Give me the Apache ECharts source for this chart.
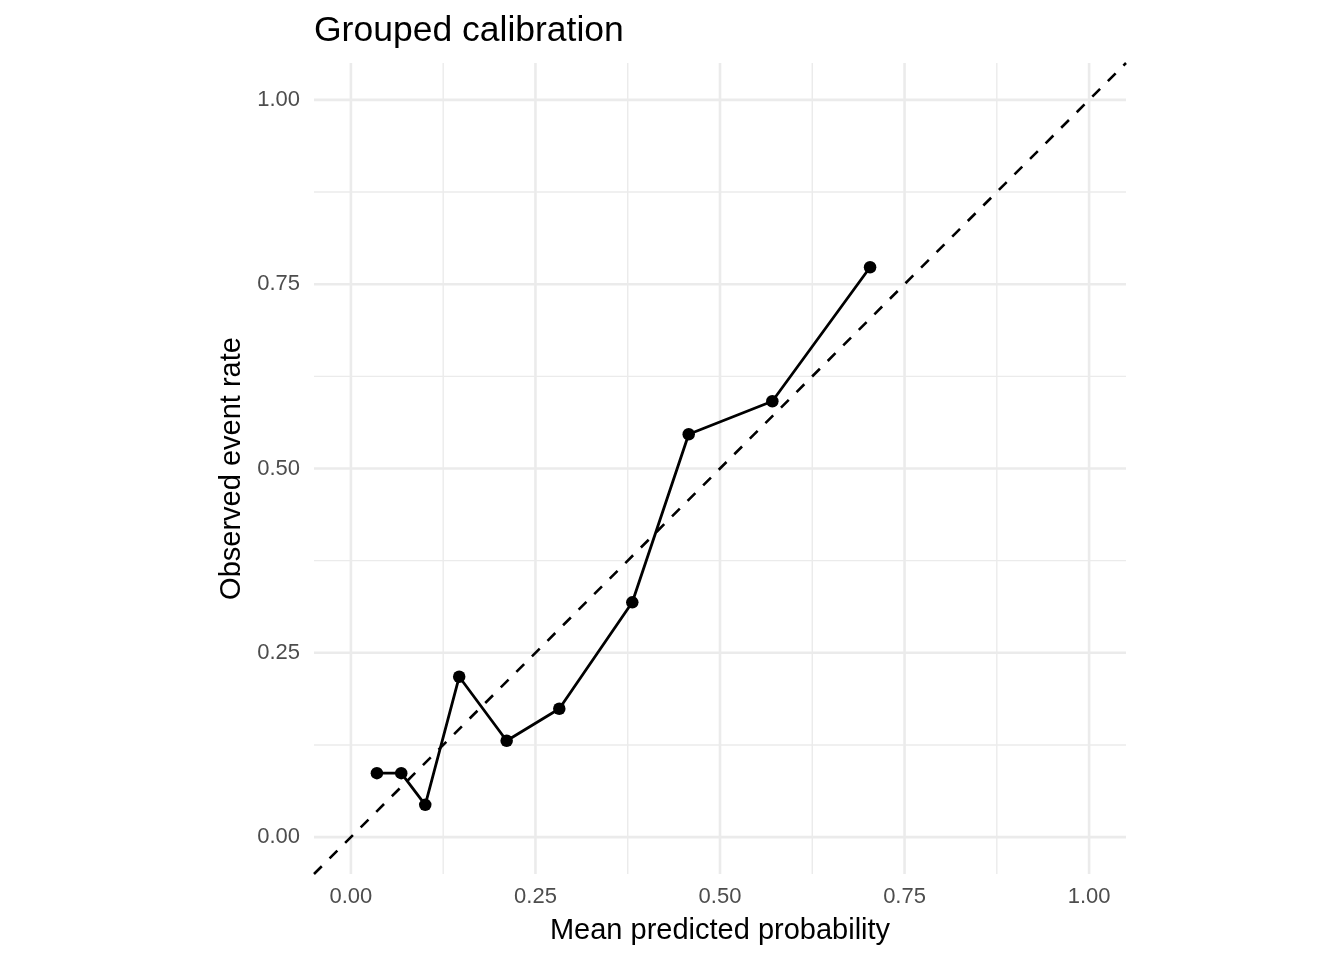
<!DOCTYPE html>
<html>
<head>
<meta charset="utf-8">
<script src="https://cdn.jsdelivr.net/npm/echarts@6/dist/echarts.min.js"></script>
<style>
html,body{margin:0;padding:0;background:#fff;}
#chart{width:1344px;height:960px;}
</style>
</head>
<body>
<div id="chart"></div>
<script>
// Data
var predicted = [0.0352, 0.0682, 0.1007, 0.1467, 0.2110, 0.2823, 0.3812, 0.4576, 0.5709, 0.7033];
var observed  = [0.0868, 0.0868, 0.0438, 0.2175, 0.1307, 0.1741, 0.3185, 0.5464, 0.5912, 0.7730];
var majorTicks = [0, 0.25, 0.5, 0.75, 1];
var minorTicks = [0.125, 0.375, 0.625, 0.875];
var axisLimits = [-0.05, 1.05];

var calib = predicted.map(function (p, i) { return [p, observed[i]]; });
var refLine = [[axisLimits[0], axisLimits[0]], [axisLimits[1], axisLimits[1]]];

function gridSeries(v, width) {
  var style = { color: '#EBEBEB', width: width, type: 'solid' };
  return [
    { type: 'line', data: [[v, axisLimits[0]], [v, axisLimits[1]]], symbol: 'none', silent: true, z: 1, lineStyle: style },
    { type: 'line', data: [[axisLimits[0], v], [axisLimits[1], v]], symbol: 'none', silent: true, z: 1, lineStyle: style }
  ];
}
var gridLineSeries = [];
minorTicks.forEach(function (v) { gridLineSeries = gridLineSeries.concat(gridSeries(v, 1.4)); });
majorTicks.forEach(function (v) { gridLineSeries = gridLineSeries.concat(gridSeries(v, 2.6)); });

var fontFam = '"Liberation Sans", Arial, sans-serif';
var chart = echarts.init(document.getElementById('chart'), null, { renderer: 'canvas' });
chart.setOption({
  animation: false,
  backgroundColor: '#ffffff',
  title: {
    text: 'Grouped calibration',
    left: 314,
    top: 13,
    padding: 0,
    textStyle: { fontFamily: fontFam, fontSize: 35.5, fontWeight: 'normal', color: '#000000' }
  },
  grid: { left: 314, right: 218, top: 63, bottom: 86, containLabel: false },
  xAxis: {
    type: 'value',
    min: axisLimits[0],
    max: axisLimits[1],
    name: 'Mean predicted probability',
    nameLocation: 'middle',
    nameGap: 42,
    nameTextStyle: { fontFamily: fontFam, fontSize: 29, color: '#000000' },
    axisLine: { show: false },
    axisTick: { show: false, customValues: majorTicks },
    splitLine: { show: false },
    axisLabel: {
      customValues: majorTicks,
      margin: 12,
      fontFamily: fontFam, fontSize: 22, color: '#4D4D4D',
      formatter: function (v) { return v.toFixed(2); }
    }
  },
  yAxis: {
    type: 'value',
    min: axisLimits[0],
    max: axisLimits[1],
    name: 'Observed event rate',
    nameLocation: 'middle',
    nameGap: 67,
    nameRotate: 90,
    nameTextStyle: { fontFamily: fontFam, fontSize: 29, color: '#000000' },
    axisLine: { show: false },
    axisTick: { show: false, customValues: majorTicks },
    splitLine: { show: false },
    axisLabel: {
      customValues: majorTicks,
      margin: 14,
      padding: [3, 0, 0, 0],
      fontFamily: fontFam, fontSize: 22, color: '#4D4D4D',
      formatter: function (v) { return v.toFixed(2); }
    }
  },
  series: gridLineSeries.concat([
    {
      type: 'line',
      name: 'reference',
      data: refLine,
      z: 3,
      showSymbol: false,
      symbol: 'none',
      silent: true,
      lineStyle: { color: '#000000', width: 2.6, type: [11, 11], cap: 'butt' }
    },
    {
      type: 'line',
      name: 'calibration',
      data: calib,
      z: 4,
      symbol: 'circle',
      symbolSize: 12.5,
      silent: true,
      itemStyle: { color: '#000000' },
      lineStyle: { color: '#000000', width: 2.8 }
    }
  ])
});
</script>
</body>
</html>
